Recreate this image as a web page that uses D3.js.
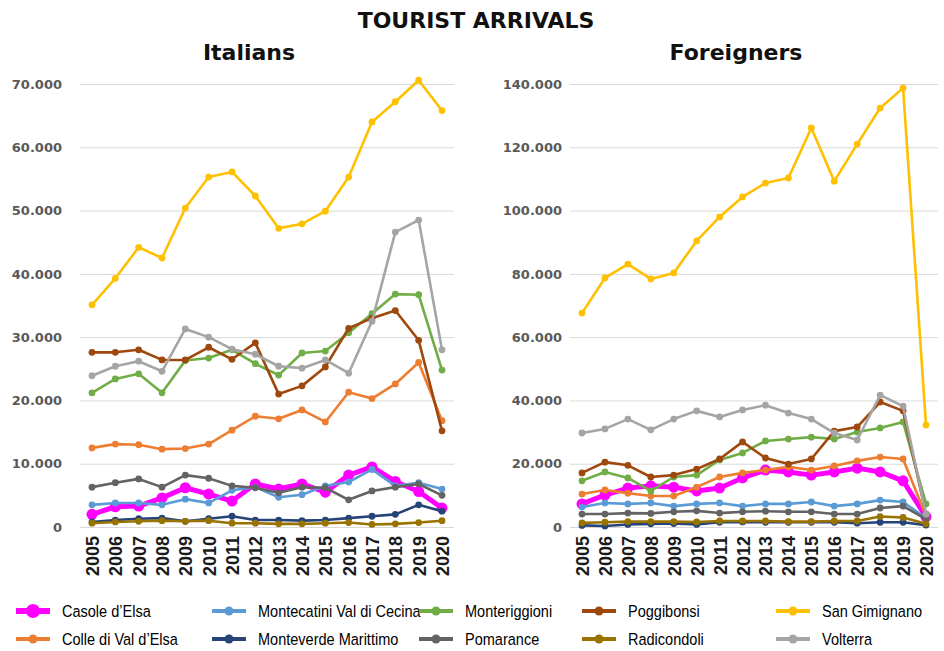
<!DOCTYPE html>
<html><head><meta charset="utf-8">
<script src="https://cdn.jsdelivr.net/npm/d3@7"></script>
<style>
body{margin:0;background:#fff;}
svg{display:block;}
</style></head>
<body>
<svg id="chart" width="944" height="651"></svg>
<script>
const years = [2005,2006,2007,2008,2009,2010,2011,2012,2013,2014,2015,2016,2017,2018,2019,2020];
const seriesNames = ["Casole d’Elsa","Colle di Val d’Elsa","Montecatini Val di Cecina","Monteverde Marittimo","Monteriggioni","Pomarance","Poggibonsi","Radicondoli","San Gimignano","Volterra"];
const seriesColors = ["#FF00FF","#ED7D31","#5B9BD5","#264478","#70AD47","#636363","#9E480E","#997300","#FFC000","#A5A5A5"];

// Italians
const itCasole       = [2000,3200,3300,4600,6200,5200,4100,6800,6000,6800,5500,8200,9500,7200,5600,3000];
const itColle        = [12500,13100,13000,12300,12400,13100,15300,17500,17100,18500,16600,21300,20300,22600,26000,16800];
const itMontecatini  = [3500,3800,3800,3500,4400,3800,5800,6300,4700,5100,6500,7100,9100,6500,7000,6000];
const itMonteverde   = [800,1100,1300,1400,900,1300,1700,1100,1100,1000,1100,1400,1700,2000,3500,2500];
const itMonteriggioni= [21200,23400,24200,21200,26300,26700,28000,25800,24000,27500,27800,30700,33700,36800,36700,24800];
const itPomarance    = [6300,7000,7600,6300,8200,7700,6500,6200,5400,6300,6200,4300,5700,6300,6800,5000];
const itPoggibonsi   = [27600,27600,28000,26400,26400,28400,26500,29100,21000,22300,25300,31400,33000,34200,29500,15200];
const itRadicondoli  = [600,800,900,1000,900,1000,600,600,500,500,600,700,400,500,700,1000];
const itSanGimignano = [35100,39300,44200,42500,50400,55300,56100,52300,47200,47900,49900,55300,64000,67200,70600,65800];
const itVolterra     = [23900,25400,26200,24600,31300,30000,28100,27300,25400,25100,26400,24300,32500,46600,48500,28000];

// Foreigners
const frCasole       = [7300,10100,12300,13000,12600,11400,12300,15500,18000,17400,16400,17400,18600,17400,14600,3200];
const frColle        = [10400,11700,10700,9800,9800,12600,15800,17100,18000,19000,18000,19300,20900,22100,21500,3500];
const frMontecatini  = [6300,7600,7300,7600,6600,7300,7600,6600,7300,7300,7900,6600,7300,8500,7900,2800];
const frMonteverde   = [500,300,800,1000,1100,800,1500,1600,1500,1500,1500,1500,1200,1500,1500,600];
const frMonteriggioni= [14600,17400,15500,11400,15800,16400,21200,23400,27200,27800,28400,27800,30000,31300,33200,7300];
const frPomarance    = [4100,4100,4400,4300,4800,5100,4400,4800,5000,4800,4800,4100,4100,6000,6600,2500];
const frPoggibonsi   = [17100,20500,19500,15800,16400,18300,21500,26900,21800,19900,21500,30300,31600,39500,36700,4100];
const frRadicondoli  = [1300,1500,1700,1700,1700,1600,1900,1900,1900,1700,1700,1900,1900,3300,3000,1000];
const frSanGimignano = [67600,78700,83100,78400,80300,90400,98000,104300,108700,110300,126100,109300,121000,132400,138700,32200];
const frVolterra     = [29700,31000,34100,30700,34100,36700,34800,37000,38500,36000,34100,29700,27500,41700,38200,4000];

const itTicks = [0,10000,20000,30000,40000,50000,60000,70000];
const frTicks = [0,20000,40000,60000,80000,100000,120000,140000];

const italians = [itCasole,itColle,itMontecatini,itMonteverde,itMonteriggioni,itPomarance,itPoggibonsi,itRadicondoli,itSanGimignano,itVolterra];
const foreigners = [frCasole,frColle,frMontecatini,frMonteverde,frMonteriggioni,frPomarance,frPoggibonsi,frRadicondoli,frSanGimignano,frVolterra];

const locale = d3.formatLocale({decimal:",", thousands:".", grouping:[3], currency:["",""]});
const fmt = locale.format(",d");

const svg = d3.select("#chart");

svg.append("text").attr("x",476).attr("y",28).attr("text-anchor","middle")
  .style("font-family","'DejaVu Sans',sans-serif").style("font-weight","bold")
  .style("font-size","22px").attr("fill","#111").text("TOURIST ARRIVALS");

function panel(cfg){
  const g = svg.append("g");
  const x = d3.scalePoint().domain(years).range([cfg.x0, cfg.x1]);
  const y = d3.scaleLinear().domain([0, cfg.max]).range([527, 84]);

  const ya = d3.axisLeft(y).tickValues(cfg.ticks).tickFormat(fmt)
    .tickSize(-(cfg.gx1 - cfg.gx0)).tickPadding(cfg.gx0 - cfg.labelX);
  const yg = g.append("g").attr("transform",`translate(${cfg.gx0},0)`).call(ya);
  yg.select(".domain").remove();
  yg.selectAll(".tick line").attr("stroke","#D9D9D9").attr("stroke-width",1);
  yg.selectAll(".tick text").attr("fill","#595959")
    .style("font-family","'DejaVu Sans',sans-serif").style("font-weight","bold").style("font-size","13px");

  const xa = d3.axisBottom(x).tickSize(0).tickPadding(0);
  const xg = g.append("g").attr("transform","translate(0,534)").call(xa);
  xg.select(".domain").remove();
  xg.selectAll(".tick text").attr("transform","rotate(-90)").attr("text-anchor","end")
    .attr("x",-2).attr("y",0).attr("dy","0.36em").attr("dx",0)
    .attr("fill","#1a1a1a")
    .style("font-family","'Liberation Sans',Arial,sans-serif").style("font-weight","bold").style("font-size","18px");

  const line = d3.line().x((d,i)=>x(years[i])).y(d=>y(d));
  cfg.data.forEach((vals,si)=>{
    const thick = si===0;
    g.append("path").datum(vals).attr("d",line).attr("fill","none")
      .attr("stroke",seriesColors[si]).attr("stroke-width",thick?5:2.6)
      .attr("stroke-linejoin","round").attr("stroke-linecap","round");
    g.selectAll(null).data(vals).enter().append("circle")
      .attr("cx",(d,i)=>x(years[i])).attr("cy",d=>y(d)).attr("r",thick?5.5:3.4)
      .attr("fill",seriesColors[si]);
  });

  svg.append("text").attr("x",cfg.titleX).attr("y",60).attr("text-anchor","middle")
    .style("font-family","'DejaVu Sans',sans-serif").style("font-weight","bold")
    .style("font-size","22px").attr("fill","#111").text(cfg.title);
}

panel({title:"Italians", titleX:249, data:italians, max:70000, ticks:itTicks, x0:92, x1:442, gx0:80, gx1:454, labelX:62});
panel({title:"Foreigners", titleX:736, data:foreigners, max:140000, ticks:frTicks, x0:582, x1:926, gx0:570, gx1:938, labelX:562});

// legend
const legCols = [62, 258, 465, 628, 822];
const legRows = [611, 639];
const legOrder = [[0,2,4,6,8],[1,3,5,7,9]];
legOrder.forEach((row,ri)=>{
  row.forEach((si,ci)=>{
    const tx = legCols[ci], ty = legRows[ri];
    const lg = svg.append("g");
    const thick = si===0;
    lg.append("line").attr("x1",tx-46).attr("x2",tx-12).attr("y1",ty).attr("y2",ty)
      .attr("stroke",seriesColors[si]).attr("stroke-width",thick?6:4);
    lg.append("circle").attr("cx",tx-29).attr("cy",ty).attr("r",thick?7:4.5).attr("fill",seriesColors[si]);
    lg.append("text").attr("transform",`translate(${tx},${ty}) scale(0.88,1)`).attr("dy","0.35em")
      .style("font-family","'Liberation Sans',Arial,sans-serif")
      .style("font-size","16.5px").attr("fill","#000").text(seriesNames[si]);
  });
});
</script>
</body></html>
